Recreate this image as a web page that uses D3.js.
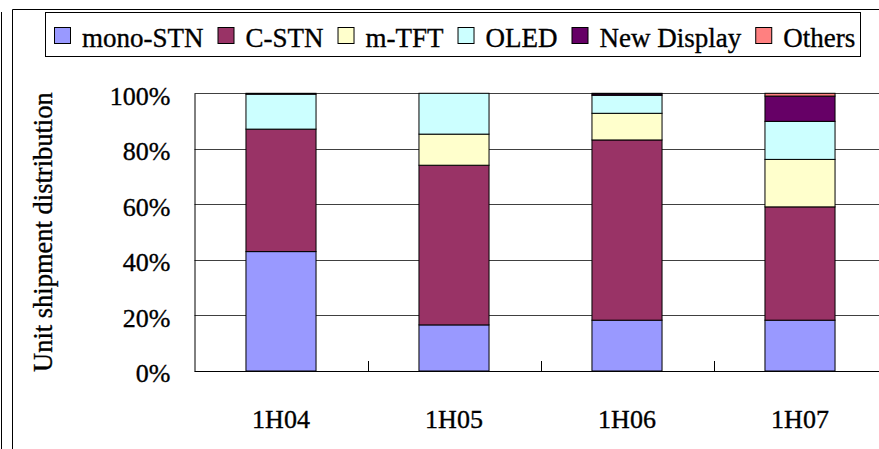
<!DOCTYPE html>
<html>
<head>
<meta charset="utf-8">
<script src="https://cdn.jsdelivr.net/npm/d3@7"></script>
<style>
  html, body { margin: 0; padding: 0; background: #fff; }
  svg { display: block; }
</style>
</head>
<body>
<svg id="chart" width="879" height="449"></svg>
<script>
const categories = ["1H04", "1H05", "1H06", "1H07"];
const seriesNames = ["mono-STN", "C-STN", "m-TFT", "OLED", "New Display", "Others"];
const monoSTN    = [0.430, 0.166, 0.183, 0.183];
const cSTN       = [0.441, 0.575, 0.649, 0.408];
const mTFT       = [0.000, 0.112, 0.096, 0.171];
const oled       = [0.126, 0.147, 0.065, 0.137];
const newDisplay = [0.003, 0.000, 0.005, 0.091];
const others     = [0.000, 0.000, 0.002, 0.010];
const seriesColors = ["#9999FF", "#993366", "#FFFFCC", "#CCFFFF", "#660066", "#FF8080"];
const yTicks = [0, 0.2, 0.4, 0.6, 0.8, 1.0];
const yTitle = "Unit shipment distribution";

const FONT = "'Liberation Serif', 'DejaVu Serif', 'Times New Roman', Times, serif";

const seriesValues = [monoSTN, cSTN, mTFT, oled, newDisplay, others];
const rows = categories.map((c, i) => {
  const r = { cat: c };
  seriesNames.forEach((s, k) => r[s] = seriesValues[k][i]);
  return r;
});
const stacked = d3.stack().keys(seriesNames)(rows);

const svg = d3.select("#chart");
const W = 879, H = 449;
const plot = { left: 194.5, right: 886.5, top: 93.3, bottom: 371 };

function styleText(sel, size) {
  sel.style("font-family", FONT).style("font-size", size + "px").style("fill", "#000")
     .style("stroke", "#000").style("stroke-width", "0.35px");
}

// frame lines
svg.append("line").attr("x1", 1.5).attr("x2", 1.5).attr("y1", 12).attr("y2", H).attr("stroke", "#000").attr("stroke-width", 1);
svg.append("line").attr("x1", 12.5).attr("x2", 12.5).attr("y1", 9.5).attr("y2", H).attr("stroke", "#000").attr("stroke-width", 1);
svg.append("line").attr("x1", 12.5).attr("x2", W).attr("y1", 9.5).attr("y2", 9.5).attr("stroke", "#000").attr("stroke-width", 1);

const x = d3.scaleBand().domain(categories).range([plot.left, plot.right])
  .paddingInner(0.595).paddingOuter(0.2975);
const y = d3.scaleLinear().domain([0, 1]).range([plot.bottom, plot.top]);

// gridlines
svg.append("g").selectAll("line").data(yTicks.filter(t => t > 0)).join("line")
  .attr("x1", plot.left).attr("x2", W)
  .attr("y1", d => Math.round(y(d)) + 0.5).attr("y2", d => Math.round(y(d)) + 0.5)
  .attr("stroke", "#404040").attr("stroke-width", 1);

// bars
svg.append("g").selectAll("g").data(stacked).join("g")
  .attr("fill", (d, i) => seriesColors[i])
  .selectAll("rect").data(d => d.filter(p => p[1] - p[0] > 0)).join("rect")
  .attr("x", d => x(d.data.cat))
  .attr("width", x.bandwidth())
  .attr("y", d => y(d[1]))
  .attr("height", d => y(d[0]) - y(d[1]))
  .attr("stroke", "#000").attr("stroke-width", 1);

// y axis
const yAxis = svg.append("g").attr("transform", `translate(${plot.left},0)`)
  .call(d3.axisLeft(y).tickValues(yTicks).tickFormat(d3.format(".0%")).tickSize(0).tickPadding(24));
yAxis.attr("font-family", null).attr("font-size", null);
yAxis.select(".domain").attr("stroke", "#000");
styleText(yAxis.selectAll("text").attr("dy", "0.42em"), 26);

// x axis
const step = x.step();
svg.append("line").attr("x1", plot.left).attr("x2", W).attr("y1", plot.bottom + 0.5).attr("y2", plot.bottom + 0.5).attr("stroke", "#000");
svg.append("g").selectAll("line").data(categories.slice(1)).join("line")
  .attr("x1", d => Math.round(x(d) - (step - x.bandwidth()) / 2) + 0.5)
  .attr("x2", d => Math.round(x(d) - (step - x.bandwidth()) / 2) + 0.5)
  .attr("y1", plot.bottom).attr("y2", plot.bottom - 10)
  .attr("stroke", "#000");
styleText(svg.append("g").selectAll("text").data(categories).join("text")
  .attr("x", d => x(d) + x.bandwidth() / 2)
  .attr("y", 428)
  .attr("text-anchor", "middle")
  .text(d => d), 26);

// y title
styleText(svg.append("text")
  .attr("transform", `translate(52,${(plot.top + plot.bottom) / 2}) rotate(-90)`)
  .attr("text-anchor", "middle")
  .text(yTitle), 26.5);

// legend
const lg = svg.append("g");
lg.append("rect").attr("x", 45.5).attr("y", 12.5).attr("width", 815).attr("height", 44)
  .attr("fill", "#fff").attr("stroke", "#000");
let cx = 54;
seriesNames.forEach((s, i) => {
  lg.append("rect").attr("x", cx + 0.5).attr("y", 27.5).attr("width", 16).attr("height", 16)
    .attr("fill", seriesColors[i]).attr("stroke", "#000").attr("stroke-width", 1);
  const t = lg.append("text").attr("x", cx + 28).attr("y", 47).text(s);
  styleText(t, 27);
  const w = t.node().getComputedTextLength();
  cx = cx + 28 + w + 14;
});
</script>
</body>
</html>
